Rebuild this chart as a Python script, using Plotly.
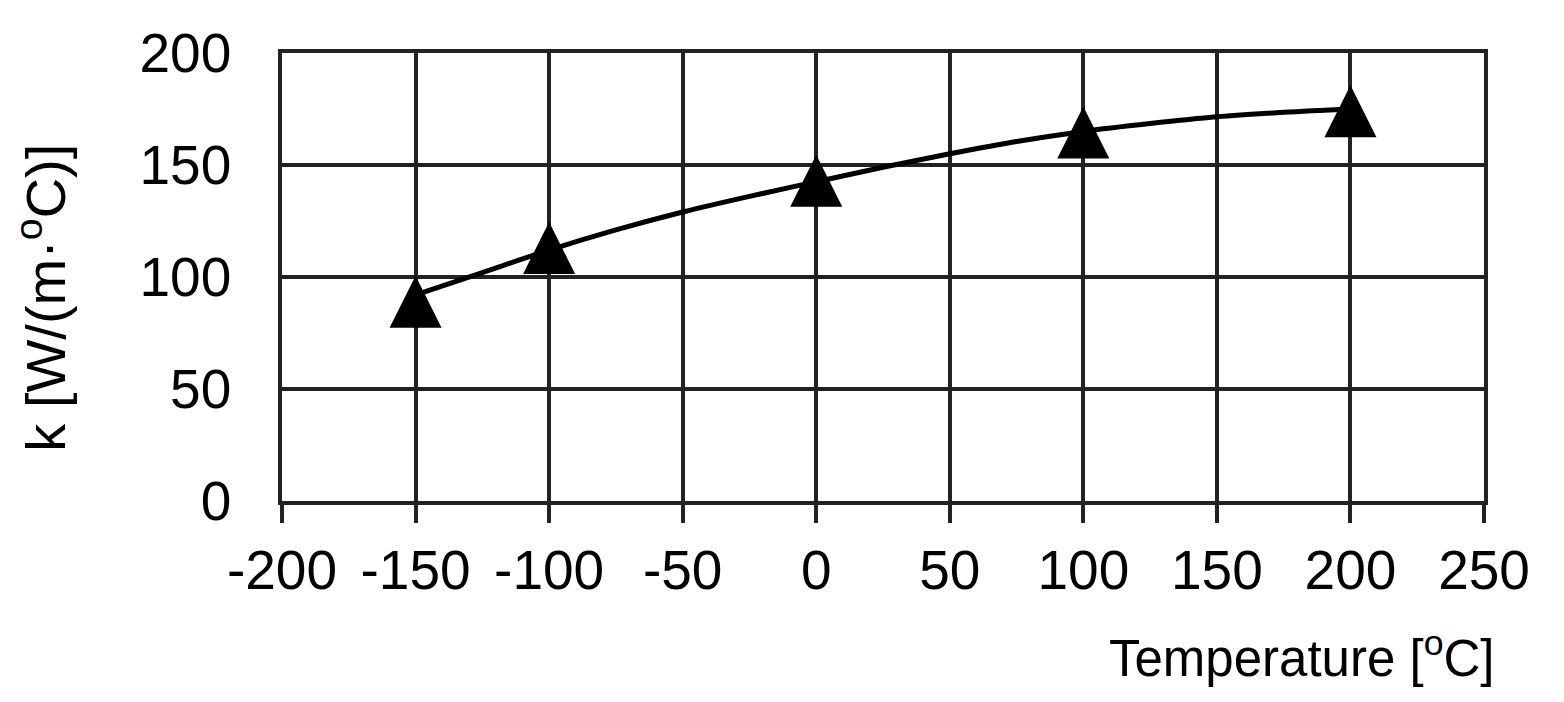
import plotly.graph_objects as go

# Measured data points (triangles)
temp_pts = [-150, -100, 0, 100, 200]
k_pts = [89, 113, 143, 164.5, 174]

# Trend curve
curve_x = [-150, -125, -100, -75, -50, -25, 0, 25, 50, 75, 100, 125, 150, 175, 200]
curve_y = [92, 102, 112, 121, 129, 136, 142.5, 149, 155, 160.5, 165, 168.5, 171.5, 173.5, 175]

x_ticks = [-200, -150, -100, -50, 0, 50, 100, 150, 200, 250]
y_ticks = [0, 50, 100, 150, 200]

FONT = "Liberation Sans"
GRID = "#222222"

fig = go.Figure()
fig.add_trace(go.Scatter(
    x=curve_x, y=curve_y, mode="lines",
    line=dict(color="black", width=5, shape="spline"),
    showlegend=False, hoverinfo="skip"))
fig.add_trace(go.Scatter(
    x=temp_pts, y=k_pts, mode="markers",
    marker=dict(symbol="arrow-down", size=52, color="black", angle=180,
                standoff=26, line=dict(width=0)),
    showlegend=False))

fig.update_layout(
    width=1564, height=702,
    margin=dict(l=274, r=88, t=45, b=209),
    paper_bgcolor="white", plot_bgcolor="white",
    font=dict(family=FONT, color="black", size=55),
    xaxis=dict(range=[-200, 250], tickvals=x_ticks,
               ticktext=[str(v) for v in x_ticks],
               showgrid=True, gridcolor=GRID, gridwidth=3.5,
               showline=True, linecolor=GRID, linewidth=3.5, mirror=True,
               zeroline=False, ticks="outside", ticklen=18, tickwidth=3.5,
               tickcolor=GRID, tickfont=dict(size=55, family=FONT, color="black")),
    yaxis=dict(range=[0, 200], tickvals=y_ticks,
               ticktext=[str(v) for v in y_ticks],
               showgrid=True, gridcolor=GRID, gridwidth=3.5,
               showline=True, linecolor=GRID, linewidth=3.5, mirror=True,
               zeroline=False, ticks="", ticklabelstandoff=36,
               tickfont=dict(size=55, family=FONT, color="black")),
    annotations=[
        dict(text="Temperature [<sup>o</sup>C]", xref="paper", yref="paper",
             x=1.0108, y=-0.344, xanchor="right", yanchor="middle",
             showarrow=False, font=dict(size=51, family=FONT, color="black")),
        dict(text="k [W/(m·<sup>o</sup>C)]", xref="paper", yref="paper",
             x=-0.2, y=0.453, xanchor="center", yanchor="middle",
             textangle=-90, showarrow=False,
             font=dict(size=56, family=FONT, color="black")),
    ],
)

fig.write_html("out.html")
